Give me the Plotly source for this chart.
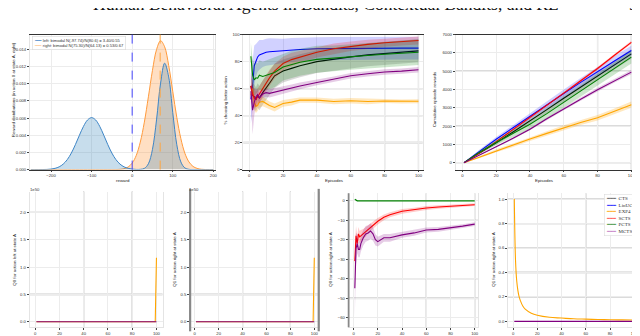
import plotly.graph_objects as go

# ---------------- data ----------------
reward_x = list(range(-250, 201, 10))
left_density = [0, 0, 0, 0.00001, 0.00002, 0.00006, 0.00015, 0.00032, 0.00064, 0.00116,
                0.00192, 0.00290, 0.00400, 0.00503, 0.00577, 0.00605, 0.00577, 0.00503, 0.00400, 0.00290,
                0.00192, 0.00116, 0.00064, 0.00032, 0.00015,
                0.00006, 0.00002, 0.00003, 0.00014, 0.00068, 0.00235, 0.00578, 0.01006, 0.01238, 0.01078,
                0.00664, 0.00289, 0.00089, 0.00019, 0.00003, 0, 0, 0, 0, 0, 0]
right_density = [0, 0, 0, 0, 0, 0, 0, 0, 0, 0, 0, 0, 0, 0, 0, 0, 0, 0, 0, 0, 0, 0,
                 0.00003, 0.00011, 0.00030, 0.00075, 0.00164, 0.00320, 0.00552, 0.00847, 0.01154, 0.01396,
                 0.01499, 0.01429, 0.01211, 0.00910, 0.00607, 0.00360, 0.00189, 0.00089, 0.00037, 0.00014,
                 0.00004, 0.00001, 0, 0]
left_marker = 0
right_marker = 69
legend_left_text = "left: bimodal N(-97.74)/N(80.6) = 3.40/0.55"
legend_right_text = "right: bimodal N(75.30)/N(64.13) = 0.53/0.67"

agents = ["CTS", "LinUCB", "EXP4", "SCTS", "PCTS", "MCTS"]

ep_pct = [1, 2, 3, 4, 5, 6, 8, 10, 12, 15, 20, 25, 30, 40, 50, 60, 70, 80, 90, 100]
pct_mean = {
    "CTS":    [62, 55, 54, 52, 55, 53, 57, 61, 64, 69.5, 73, 75, 77, 80, 82, 83.5, 85, 86, 87, 88],
    "LinUCB": [52, 62, 77, 81, 83.5, 85, 86, 87, 87.3, 87.6, 88, 88.5, 89, 89.5, 89.7, 89.8, 90, 90, 90, 90],
    "EXP4":   [55, 60, 50, 47, 47.5, 50, 50.5, 49, 47.5, 46, 49, 50, 51.5, 51.5, 50.5, 51, 50.5, 50.8, 50.5, 50.6],
    "SCTS":   [62, 56, 53, 52, 54, 56, 60, 65, 68, 73, 78.6, 81.5, 83.5, 87, 89.5, 91.4, 92.8, 94, 95, 95.7],
    "PCTS":   [84, 70, 66.5, 68, 67.7, 70, 69, 70, 71, 72, 76, 78, 79.5, 81.7, 82.5, 83.5, 84.5, 85.5, 86.3, 87],
    "MCTS":   [58, 44, 50, 54, 55.6, 53, 56, 57, 56.5, 57.5, 59, 60.5, 62, 64.5, 67, 69.5, 71, 72.3, 73, 74],
}
pct_hw = {
    "CTS":    [10, 9, 9, 9, 9, 9, 9, 9, 9, 9, 8.5, 8.5, 8.5, 8.5, 8.5, 8.5, 8.5, 8.5, 8.5, 8.5],
    "LinUCB": [18, 18, 15, 12, 11, 11, 10, 10, 10, 9.5, 9, 9, 8.5, 8.5, 8.5, 8.5, 8.5, 8.5, 8.5, 8.5],
    "EXP4":   [6, 8, 6, 5, 4, 4, 3.5, 3, 3, 3, 2.5, 2.5, 2, 2, 2, 2, 2, 1.5, 1.5, 1.5],
    "SCTS":   [10, 8, 7, 6, 6, 6, 6, 6, 6, 5.5, 5, 5, 4.5, 4, 4, 3.5, 3.5, 3, 3, 3],
    "PCTS":   [10, 12, 12, 12, 11, 11, 11, 11, 11, 11, 10, 10, 10, 10, 9.5, 9.5, 9.5, 9.5, 9.5, 9.5],
    "MCTS":   [5, 18, 10, 6, 4, 4, 3, 3, 3, 3, 2.5, 2.5, 2.5, 2, 2, 2, 2, 2, 2, 2],
}

ep_cum = [1, 10, 20, 30, 40, 50, 60, 70, 80, 90, 100]
cum_mean = {
    "CTS":    [0, 500, 1080, 1680, 2276, 2900, 3520, 4120, 4750, 5350, 5950],
    "LinUCB": [0, 620, 1280, 1910, 2545, 3170, 3780, 4390, 4990, 5560, 6130],
    "EXP4":   [0, 300, 650, 950, 1290, 1600, 1917, 2200, 2455, 2800, 3170],
    "SCTS":   [0, 520, 1150, 1800, 2455, 3150, 3800, 4480, 5150, 5870, 6580],
    "PCTS":   [0, 560, 1100, 1600, 2097, 2680, 3300, 3900, 4530, 5150, 5770],
    "MCTS":   [0, 430, 870, 1330, 1828, 2400, 2950, 3470, 3990, 4480, 4950],
}
cum_hw = {
    "CTS":    [0, 60, 100, 130, 160, 180, 200, 220, 240, 250, 260],
    "LinUCB": [0, 80, 120, 150, 180, 200, 220, 240, 250, 260, 270],
    "EXP4":   [0, 60, 80, 100, 110, 120, 130, 140, 150, 160, 170],
    "SCTS":   [0, 30, 40, 50, 60, 60, 70, 70, 80, 80, 80],
    "PCTS":   [0, 80, 140, 200, 250, 280, 300, 320, 330, 340, 350],
    "MCTS":   [0, 30, 40, 50, 60, 70, 80, 90, 100, 100, 110],
}

# Q values (units of 1e50) for panels 1 and 2
q_spike_ep = [1, 99, 100]
q0_left_exp4 = [0, 0, 1.17]
q0_left_exp4_hw = [0, 0, 0.08]
q0_left_mcts = [0, 0, 0]
q1_right_exp4 = [0, 0, 1.17]
q1_right_exp4_hw = [0, 0, 0.08]
q1_right_mcts = [0, 0, 0]

q_ep = [1, 2, 3, 4, 5, 6, 8, 10, 12, 14, 16, 18, 20, 25, 30, 40, 50, 60, 70, 80, 90, 100]
q0_right_pcts = [0.8, 0.2, 0, 0, 0, 0, 0, 0, 0, 0, 0, 0, 0, 0, 0, 0, 0, 0, 0, 0, 0, 0]
q0_right_scts = [-31, -18, -22, -17, -18.5, -18, -17, -16, -14.5, -13.5, -12.5, -11.5, -10.5, -8.5, -7.2,
                 -5.4, -4.5, -3.7, -3.2, -2.9, -2.4, -2.0]
q0_right_scts_hw = [8, 5, 4, 3.5, 3, 3, 2.5, 2.5, 2.2, 2, 2, 1.8, 1.7, 1.5, 1.3, 1.2, 1, 1, 0.9, 0.8, 0.8, 0.7]
q0_right_mcts = [-45, -24.5, -22, -25, -25, -22, -19, -17, -16.5, -15.5, -17, -20, -21, -19, -19, -17.5,
                 -16.5, -15, -14.7, -14, -13, -12]
q0_right_mcts_hw = [15, 8, 5, 4, 4, 4, 4, 4, 4, 4, 3.5, 3, 2.5, 2, 2, 1.5, 1.5, 1.3, 1.2, 1.1, 1, 1]

decay_ep = [1, 2, 3, 4, 5, 6, 8, 10, 15, 20, 30, 40, 50, 60, 70, 80, 90, 100]
q1_decay_exp4 = [1.0, 0.5, 0.33, 0.25, 0.2, 0.17, 0.125, 0.1, 0.067, 0.05, 0.033, 0.027, 0.021, 0.018,
                 0.015, 0.013, 0.012, 0.011]
flat_ep = [1, 100]
q1_decay_mcts = [0, 0]

# ---------------- style ----------------
W, H = 640, 336
colors = {"CTS": "#000000", "LinUCB": "#0000ff", "EXP4": "#ffa500",
          "SCTS": "#ff0000", "PCTS": "#008000", "MCTS": "#800080"}
band = {"CTS": "rgba(40,40,40,0.18)", "LinUCB": "rgba(0,0,255,0.18)", "EXP4": "rgba(255,165,0,0.25)",
        "SCTS": "rgba(255,0,0,0.2)", "PCTS": "rgba(0,128,0,0.2)", "MCTS": "rgba(128,0,128,0.2)"}
legend_line_colors = {"CTS": "#555555", "LinUCB": "#0000ff", "EXP4": "#ffa500",
                      "SCTS": "#ff4040", "PCTS": "#2a8a2a", "MCTS": "#c070c0"}
TICKF = dict(family="Liberation Sans", size=4.2, color="#333333")
LABF = dict(family="Liberation Sans", size=4.4, color="#222222")


def fx(p):
    return p / W


def fy(p):
    return 1 - p / H


# panel pixel boxes (left, right, top, bottom)
boxes = {
    1: (22, 208, 24, 161),
    2: (236, 416, 24, 161),
    3: (449, 627, 24, 161),
    4: (21.7, 155, 183.3, 321),
    5: (182.7, 311.7, 183.3, 321),
    6: (341.7, 471.7, 185, 321),
    7: (501.7, 633.3, 185, 321),
}

fig = go.Figure()


def ax(n):
    return ("x" if n == 1 else f"x{n}"), ("y" if n == 1 else f"y{n}")


def add_line(n, x, y, color, width=1.1, **kw):
    xa, ya = ax(n)
    fig.add_trace(go.Scatter(x=x, y=y, mode="lines", line=dict(color=color, width=width),
                             xaxis=xa, yaxis=ya, showlegend=False, hoverinfo="skip", **kw))


def add_band(n, x, mean, hw, fill):
    xa, ya = ax(n)
    lo = [m - h for m, h in zip(mean, hw)]
    hi = [m + h for m, h in zip(mean, hw)]
    fig.add_trace(go.Scatter(x=x, y=lo, mode="lines", line=dict(width=0), xaxis=xa, yaxis=ya,
                             showlegend=False, hoverinfo="skip"))
    fig.add_trace(go.Scatter(x=x, y=hi, mode="lines", line=dict(width=0), fill="tonexty",
                             fillcolor=fill, xaxis=xa, yaxis=ya, showlegend=False, hoverinfo="skip"))


# panel 1: reward distributions
add_line(1, reward_x, right_density, "#ff9a3c", 1.0, fill="tozeroy",
         fillcolor="rgba(255,127,14,0.25)")
fig.data[-1].line.shape = "spline"
add_line(1, reward_x, left_density, "#3d85c6", 1.0, fill="tozeroy",
         fillcolor="rgba(31,119,180,0.25)")
fig.data[-1].line.shape = "spline"

# panel 2 and 3
for a in agents:
    add_band(2, ep_pct, pct_mean[a], pct_hw[a], band[a])
    add_line(2, ep_pct, pct_mean[a], colors[a], 1.1)
for a in agents:
    add_band(3, ep_cum, cum_mean[a], cum_hw[a], band[a])
    add_line(3, ep_cum, cum_mean[a], colors[a], 1.1)

# panel 4 and 5
add_band(4, q_spike_ep, q0_left_exp4, q0_left_exp4_hw, "rgba(255,165,0,0.25)")
add_line(4, q_spike_ep, q0_left_exp4, colors["EXP4"], 1.1)
add_line(4, q_spike_ep, q0_left_mcts, colors["MCTS"], 1.1)
add_band(5, q_spike_ep, q1_right_exp4, q1_right_exp4_hw, "rgba(255,165,0,0.25)")
add_line(5, q_spike_ep, q1_right_exp4, colors["EXP4"], 1.1)
add_line(5, q_spike_ep, q1_right_mcts, colors["MCTS"], 1.1)

# panel 6
add_line(6, q_ep, q0_right_pcts, colors["PCTS"], 1.2)
add_band(6, q_ep, q0_right_scts, q0_right_scts_hw, band["SCTS"])
add_line(6, q_ep, q0_right_scts, colors["SCTS"], 1.1)
add_band(6, q_ep, q0_right_mcts, q0_right_mcts_hw, band["MCTS"])
add_line(6, q_ep, q0_right_mcts, colors["MCTS"], 1.1)

# panel 7
add_line(7, decay_ep, q1_decay_exp4, colors["EXP4"], 1.1)
fig.data[-1].line.shape = "spline"
add_line(7, flat_ep, q1_decay_mcts, colors["MCTS"], 1.1)

axis_cfg = {
    1: dict(xr=[-252, 205], xt=[-200, -100, 0, 100, 200], yr=[0, 0.0157],
            yt=[0, 0.002, 0.004, 0.006, 0.008, 0.010, 0.012, 0.014], yf=".3f"),
    2: dict(xr=[-3.5, 102.5], xt=[0, 20, 40, 60, 80, 100], yr=[0, 100], yt=[0, 20, 40, 60, 80, 100], yf=""),
    3: dict(xr=[-4, 101], xt=[0, 20, 40, 60, 80, 100], yr=[-380, 7000],
            yt=[0, 1000, 2000, 3000, 4000, 5000, 6000, 7000], yf=""),
    4: dict(xr=[-4.6, 105], xt=[0, 20, 40, 60, 80, 100], yr=[-0.1, 2.38], yt=[0, 0.5, 1.0, 1.5, 2.0], yf=".1f"),
    5: dict(xr=[-3.9, 103.7], xt=[0, 20, 40, 60, 80, 100], yr=[-0.1, 2.38], yt=[0, 0.5, 1.0, 1.5, 2.0], yf=".1f"),
    6: dict(xr=[-4.1, 102.9], xt=[0, 20, 40, 60, 80, 100], yr=[-65, 3.9],
            yt=[0, -10, -20, -30, -40, -50, -60], yf=""),
    7: dict(xr=[-4.1, 104.2], xt=[0, 20, 40, 60, 80, 100], yr=[-0.048, 1.048],
            yt=[0, 0.2, 0.4, 0.6, 0.8, 1.0], yf=".1f"),
}

for n, (l, r, t, b) in boxes.items():
    c = axis_cfg[n]
    xk = "xaxis" if n == 1 else f"xaxis{n}"
    yk = "yaxis" if n == 1 else f"yaxis{n}"
    xa, ya = ax(n)
    top = n <= 3
    fig.layout[xk] = dict(domain=[fx(l), fx(r)], range=c["xr"], tickvals=c["xt"], anchor=ya,
                          showgrid=True, gridcolor="#ececec", gridwidth=0.8, zeroline=False,
                          ticks="outside", ticklen=1.5, tickwidth=0.6, tickcolor="#444",
                          tickfont=TICKF, showline=True, mirror=top,
                          linecolor="#333333" if top else "#e4e4e4", linewidth=1.2 if top else 0.8)
    fig.layout[yk] = dict(domain=[fy(b), fy(t)], range=c["yr"], tickvals=c["yt"], anchor=xa,
                          tickformat=c["yf"], showgrid=True, gridcolor="#ececec", gridwidth=0.8,
                          zeroline=False, ticks="outside", ticklen=2, tickwidth=0.6, tickcolor="#444",
                          tickfont=TICKF, showline=True, mirror=True, linecolor="#e4e4e4", linewidth=0.8)

# heavier overlaid grid lines
dark_grid = {2: ([80, 100], [40, 60]), 3: ([80, 100], [0, 2000, 5000]), 4: ([40, 80], [2.0]),
             5: ([40, 80], [2.0]), 6: ([60, 100], [-10, -40]), 7: ([60, 100], [1.0, 0.8, 0.2])}
light_grid = {2: [20], 3: [], 4: [0.5], 5: [0.5], 6: [-50], 7: [0.6, 0.4]}
shapes = []
for n, (gx, gy) in dark_grid.items():
    xa, ya = ax(n)
    for v in gx:
        shapes.append(dict(type="line", xref=xa, yref=f"{ya} domain", x0=v, x1=v, y0=0, y1=1,
                           line=dict(color="#b8b8b8", width=1.2), layer="below"))
    for v in gy:
        shapes.append(dict(type="line", xref=f"{xa} domain", yref=ya, x0=0, x1=1, y0=v, y1=v,
                           line=dict(color="#b8b8b8", width=1.2), layer="below"))
    for v in light_grid[n]:
        shapes.append(dict(type="line", xref=f"{xa} domain", yref=ya, x0=0, x1=1, y0=v, y1=v,
                           line=dict(color="#dcdcdc", width=2.2), layer="below"))
# vertical reference lines of the reward panel
shapes.append(dict(type="line", xref="x", yref="y domain", x0=left_marker, x1=left_marker, y0=0, y1=1,
                   line=dict(color="#3333ff", width=0.9, dash="dash")))
shapes.append(dict(type="line", xref="x", yref="y domain", x0=right_marker, x1=right_marker, y0=0, y1=1,
                   line=dict(color="#ffa640", width=1.0, dash="dash")))
# dark spines of bottom panels
shapes.append(dict(type="line", xref="x5 domain", yref="y5 domain", x0=0, x1=0, y0=-0.03, y1=1.02,
                   line=dict(color="#888888", width=2.2)))
shapes.append(dict(type="line", xref="x5 domain", yref="y5 domain", x0=1, x1=1, y0=-0.03, y1=1.02,
                   line=dict(color="#888888", width=2.2)))
shapes.append(dict(type="line", xref="x6 domain", yref="y6 domain", x0=0, x1=0, y0=0, y1=1,
                   line=dict(color="#888888", width=1.8)))

ann = []
ann.append(dict(text="Human Behavioral Agents in Bandits, Contextual Bandits, and RL", x=0.4985, y=fy(5),
                xref="paper", yref="paper", xanchor="center", yanchor="bottom", showarrow=False,
                font=dict(family="Liberation Serif", size=17.5, color="#111")))
ann.append(dict(text="9", x=fx(627), y=fy(5), xref="paper", yref="paper", xanchor="center",
                yanchor="bottom", showarrow=False, font=dict(family="Liberation Serif", size=17.5, color="#111")))


def label(text, px_, py_, rot=0):
    ann.append(dict(text=text, x=fx(px_), y=fy(py_), xref="paper", yref="paper", xanchor="center",
                    yanchor="middle", showarrow=False, textangle=rot, font=LABF))


label("Reward distributions (in action 0 at state A, right)", 5.5, 80, -90)
label("reward", 115, 172)
label("% choosing better action", 218.5, 90, -90)
label("Episodes", 328, 172)
label("Cumulative episode rewards", 428, 90, -90)
label("Episodes", 538, 172)
label("Q0 for action left at state A", 6.5, 252, -90)
label("Episodes", 87, 332.5)
label("Q1 for action right at state A", 167, 252, -90)
label("Episodes", 247, 332.5)
label("Q0 for action right at state A", 323.5, 252, -90)
label("Episodes", 405, 332.5)
label("Q1 for action right at state A", 487, 252, -90)
label("Episodes", 564, 332.5)
for px_ in (27, 187):
    ann.append(dict(text="1e50", x=fx(px_), y=fy(181.5), xref="paper", yref="paper", xanchor="center",
                    yanchor="middle", showarrow=False, font=TICKF))

# legends drawn as text boxes
leg1 = ("<span style='color:#3d85c6'>━━━</span>  " + legend_left_text + "<br>"
        + "<span style='color:#ffc890'>━━━</span>  " + legend_right_text)
ann.append(dict(text=leg1, x=fx(24), y=fy(25.5), xref="paper", yref="paper", xanchor="left", yanchor="top",
                align="left", showarrow=False, bgcolor="rgba(255,255,255,0.9)", bordercolor="#d8d8d8",
                borderwidth=0.6, borderpad=1, font=dict(family="Liberation Sans", size=4.1, color="#333")))
leg2 = "<br>".join(f"<span style='color:{legend_line_colors[a]}'>━━━</span>  {a}" for a in agents)
ann.append(dict(text=leg2, x=fx(598), y=fy(185.5), xref="paper", yref="paper", xanchor="left", yanchor="top",
                align="left", showarrow=False, bgcolor="rgba(255,255,255,0.9)", bordercolor="#dcdcdc",
                borderwidth=0.6, borderpad=1.5, font=dict(family="Liberation Serif", size=5, color="#333")))

fig.update_layout(width=W, height=H, autosize=False, margin=dict(l=0, r=0, t=0, b=0),
                  paper_bgcolor="white", plot_bgcolor="white", showlegend=False,
                  shapes=shapes, annotations=ann)

fig.write_html("out.html", config={"displayModeBar": False})
